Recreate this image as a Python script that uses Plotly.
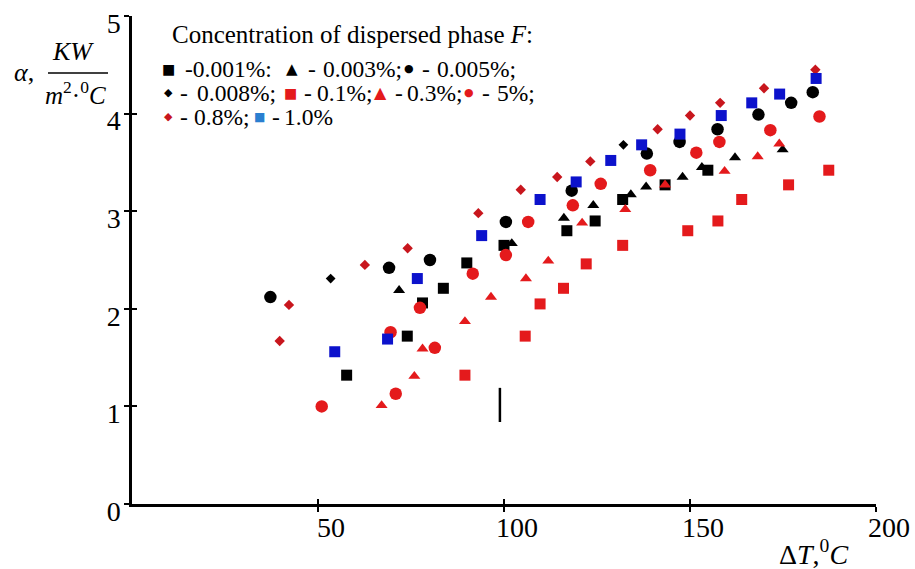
import plotly.graph_objects as go

# ---------------- data ----------------
x_ticks = [50, 100, 150, 200]
x_tick_labels = ["50", "100", "150", "200"]
y_ticks = [0, 1, 2, 3, 4, 5]
y_tick_labels = ["0", "1", "2", "3", "4", "5"]

# 0.001 % - black squares
f0001_x = [57.7, 74.0, 78.1, 83.7, 90.0, 100.0, 116.9, 124.5, 131.9, 143.3, 154.8]
f0001_y = [1.32, 1.72, 2.06, 2.21, 2.47, 2.65, 2.80, 2.90, 3.12, 3.27, 3.42]
# 0.003 % - black triangles
f0003_x = [71.8, 102.1, 116.1, 124.0, 134.1, 138.2, 148.0, 153.2, 162.1, 174.9]
f0003_y = [2.19, 2.67, 2.93, 3.06, 3.17, 3.25, 3.35, 3.45, 3.55, 3.63]
# 0.005 % - black circles
f0005_x = [37.2, 69.1, 80.1, 100.5, 118.2, 138.4, 147.2, 157.4, 168.4, 177.2, 183.0]
f0005_y = [2.12, 2.42, 2.50, 2.89, 3.21, 3.59, 3.71, 3.84, 3.99, 4.11, 4.22]
# 0.008 % - black diamonds
f0008_x = [53.4, 132.1]
f0008_y = [2.31, 3.68]
# 0.1 % - red squares
f01_x = [89.5, 105.7, 109.7, 116.0, 122.1, 131.9, 149.4, 157.5, 163.9, 176.5, 187.3]
f01_y = [1.32, 1.72, 2.05, 2.21, 2.46, 2.65, 2.80, 2.90, 3.12, 3.27, 3.42]
# 0.3 % - red triangles
f03_x = [67.1, 75.9, 78.1, 89.5, 96.5, 105.9, 111.9, 121.0, 132.6, 143.3, 159.3, 168.2, 174.0]
f03_y = [1.01, 1.31, 1.59, 1.87, 2.12, 2.31, 2.49, 2.88, 3.02, 3.27, 3.41, 3.56, 3.69]
# 5 % - red circles
f5_x = [51.0, 70.9, 69.5, 77.4, 81.4, 91.6, 100.5, 106.5, 118.5, 126.0, 139.3, 151.7, 157.9, 171.6, 184.8]
f5_y = [1.00, 1.13, 1.76, 2.01, 1.60, 2.36, 2.55, 2.89, 3.06, 3.28, 3.42, 3.60, 3.71, 3.83, 3.97]
# 0.8 % - dark red diamonds
f08_x = [39.7, 42.2, 62.6, 74.1, 93.1, 104.5, 114.3, 123.2, 141.3, 150.0, 158.1, 169.9, 183.7]
f08_y = [1.67, 2.04, 2.45, 2.62, 2.98, 3.22, 3.35, 3.51, 3.84, 3.98, 4.11, 4.26, 4.45]
# 1.0 % - blue squares
f10_x = [54.5, 68.7, 76.7, 94.0, 109.7, 119.4, 128.7, 137.0, 147.3, 158.4, 166.6, 174.1, 183.9]
f10_y = [1.56, 1.69, 2.31, 2.75, 3.12, 3.30, 3.52, 3.68, 3.79, 3.98, 4.11, 4.20, 4.36]

# stray vertical stroke in the picture
stroke_x = [98.9, 98.9]
stroke_y = [0.84, 1.19]

# ---------------- styles ----------------
BLACK = "#000000"
RED = "#e41a1c"
DRED = "#c8161d"
BLUE = "#0c12cc"
LBLUE = "#2a7fd0"
SERIF = "Liberation Serif"

series = [
    (f0001_x, f0001_y, "square", 11, BLACK),
    (f0003_x, f0003_y, "triangle-up", 10.5, BLACK),
    (f0005_x, f0005_y, "circle", 12.5, BLACK),
    (f0008_x, f0008_y, "diamond", 7.5, BLACK),
    (f01_x, f01_y, "square", 11, RED),
    (f03_x, f03_y, "triangle-up", 10.5, RED),
    (f5_x, f5_y, "circle", 12.5, RED),
    (f08_x, f08_y, "diamond", 8, DRED),
    (f10_x, f10_y, "square", 11, BLUE),
]

fig = go.Figure()
for xs, ys, sym, sz, col in series:
    fig.add_trace(go.Scatter(x=xs, y=ys, mode="markers", showlegend=False,
                             marker=dict(symbol=sym, size=sz, color=col, line=dict(width=0))))
fig.add_trace(go.Scatter(x=stroke_x, y=stroke_y, mode="lines", showlegend=False,
                         line=dict(color=BLACK, width=2.5)))
# dummy trace for overlay axes (inside half of the crossing ticks)
fig.add_trace(go.Scatter(x=[None], y=[None], xaxis="x2", yaxis="y2", showlegend=False))

L, R, T, B = 132, 39, 16, 65
W, H = 915, 569
PW, PH = W - L - R, H - T - B


def px(xp, yp):
    return (xp - L) / PW, (H - B - yp) / PH


annotations = []


def add_text(text, xp, yp, size=23.5, xanchor="left", color=BLACK, family=SERIF):
    xx, yy = px(xp, yp)
    annotations.append(dict(text=text, x=xx, y=yy, xref="paper", yref="paper",
                            xanchor=xanchor, yanchor="middle", showarrow=False,
                            font=dict(family=family, size=size, color=color)))


# legend title
add_text("Concentration of dispersed phase <i>F</i>:", 170, 34.5, size=25)

# legend key glyphs: glyph, size, colour, x, y
legend_keys = [
    ("■", 14, BLACK, 168.5, 68.5),
    ("▲", 15, BLACK, 291.5, 68.5),
    ("●", 11, BLACK, 409, 68.5),
    ("◆", 11, BLACK, 168, 92.5),
    ("■", 14, RED, 290, 92.5),
    ("▲", 16, RED, 380, 92.5),
    ("●", 11, RED, 469, 92.5),
    ("◆", 11, DRED, 168, 116.5),
    ("■", 12, LBLUE, 259, 116.5),
]
# legend label pieces: text, x, y
legend_texts = [
    ("-0.001%:", 183, 68.5),
    ("-", 306, 68.5), ("0.003%;", 321, 68.5),
    ("-", 420, 68.5), ("0.005%;", 435, 68.5),
    ("-", 178, 92.5), ("0.008%;", 195, 92.5),
    ("-", 302, 92.5), ("0.1%;", 315, 92.5),
    ("-", 393, 92.5), ("0.3%;", 405, 92.5),
    ("-", 480, 92.5), ("5%;", 495, 92.5),
    ("-", 178, 116.5), ("0.8%;", 192, 116.5),
    ("-", 270, 116.5), ("1.0%", 282, 116.5),
]
for g, gs, gc, gx, gy in legend_keys:
    add_text(g, gx, gy, size=gs, xanchor="center", color=gc, family="DejaVu Sans")
for t, tx, ty in legend_texts:
    add_text(t, tx, ty)

# y-axis title as a fraction
add_text("<i>α</i>,", 12, 72, size=26)
add_text("<i>KW</i>", 73, 51.5, size=26, xanchor="center")
add_text("<i>m</i><sup>2</sup>·<sup>0</sup><i>C</i>", 75, 93, size=25, xanchor="center")
# x-axis title
add_text("Δ<i>T</i>,<sup>0</sup><i>C</i>", 777, 552, size=28)

fx0, fy = px(48, 73)
fx1, _ = px(108, 73)

fig.update_layout(
    template="none",
    width=W, height=H,
    margin=dict(l=L, r=R, t=T, b=B, pad=0, autoexpand=False),
    paper_bgcolor="white", plot_bgcolor="white",
    font=dict(family=SERIF, color=BLACK),
    annotations=annotations,
    shapes=[dict(type="line", xref="paper", yref="paper", x0=fx0, x1=fx1, y0=fy, y1=fy,
                 line=dict(color=BLACK, width=1.5))],
    xaxis=dict(range=[0, 200], tickvals=x_ticks, ticktext=x_tick_labels, automargin=False,
               showline=True, linecolor=BLACK, linewidth=2.5, showgrid=False, zeroline=False,
               ticks="outside", ticklen=5, tickwidth=1.5, tickcolor=BLACK,
               tickfont=dict(family=SERIF, size=28, color=BLACK),
               ticklabelshift=13, ticklabelstandoff=-8),
    yaxis=dict(range=[0, 5], tickvals=y_ticks, ticktext=y_tick_labels, automargin=False,
               showline=True, linecolor=BLACK, linewidth=2.5, showgrid=False, zeroline=False,
               ticks="outside", ticklen=5, tickwidth=1.5, tickcolor=BLACK,
               tickfont=dict(family=SERIF, size=28, color=BLACK),
               ticklabelshift=7, ticklabelstandoff=-2),
    xaxis2=dict(range=[0, 200], overlaying="x", anchor="y2", side="bottom", automargin=False,
                tickvals=x_ticks, showticklabels=False, showline=False, showgrid=False,
                zeroline=False, ticks="inside", ticklen=5, tickwidth=1.5, tickcolor=BLACK),
    yaxis2=dict(range=[0, 5], overlaying="y", anchor="x2", side="left", automargin=False,
                tickvals=y_ticks, showticklabels=False, showline=False, showgrid=False,
                zeroline=False, ticks="inside", ticklen=5, tickwidth=1.5, tickcolor=BLACK),
)

fig.write_html(
    "out.html",
    config=dict(displayModeBar=False),
    post_script="document.body.style.margin='0';"
                "document.documentElement.style.overflow='hidden';",
)
